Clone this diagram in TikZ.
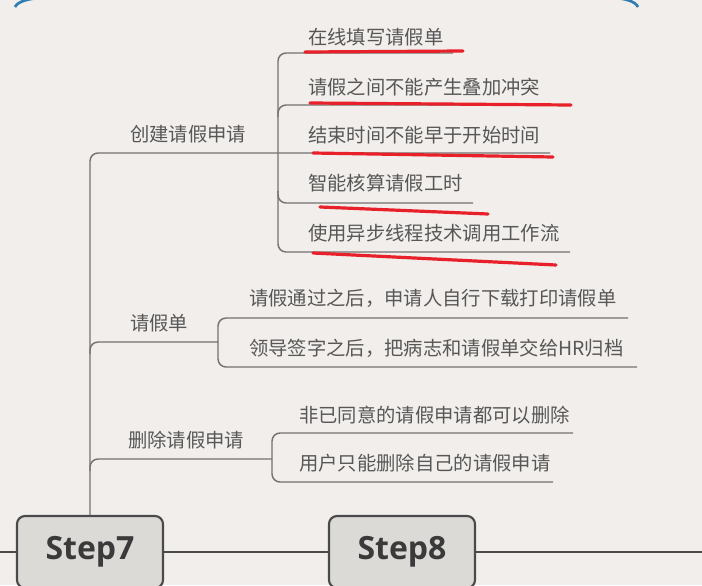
\documentclass[tikz,border=0pt]{standalone}
\usepackage{fontspec}
\setmainfont{Noto Sans CJK SC}
\newfontfamily\stepfont{Open Sans}
\definecolor{bg}{HTML}{F1EEEB}
\definecolor{txt}{HTML}{575757}
\definecolor{line}{HTML}{737373}
\definecolor{boxline}{HTML}{4A4A4A}
\definecolor{boxfill}{HTML}{DCDAD7}
\definecolor{steptext}{HTML}{3A3A3A}
\definecolor{markred}{HTML}{E8202A}
\definecolor{arcblue}{HTML}{2F7DB3}

\begin{document}
\begin{tikzpicture}[x=0.75pt, y=-0.75pt,
    leaf/.style = {anchor=west, inner sep=0pt, text=txt, font=\fontsize{14.5}{17}\selectfont},
    conn/.style = {draw=line, line width=1.1pt, rounded corners=6pt},
    tline/.style = {draw=boxline, line width=1.5pt},
    stepbox/.style = {draw=boxline, fill=boxfill, line width=1.6pt, rounded corners=6pt,
        minimum width=109.5pt, minimum height=54pt, text=steptext,
        font=\stepfont\bfseries\fontsize{24}{28}\selectfont},
    redmark/.style = {draw=markred, line width=2.4pt, line cap=round}]
    \fill[bg] (0,0) rectangle (702,585);
    \clip (0,0) rectangle (702,585);
    % frame of the box above
    \draw[arcblue, line width=2pt] (15,7) .. controls (18,1) and (28,-1) .. (45,-3) -- (610,-3) .. controls (626,-1) and (635,1) .. (638,7);

    % steps
    \node[stepbox] (s7) at (90,552) {Step7};
    \node[stepbox] (s8) at (402,552) {Step8};
    \coordinate (tl) at (0,552);
    \coordinate (tr) at (702,552);
    \draw[tline] (tl) -- (s7) -- (s8) -- (tr);

    % branches
    \node[leaf] (a) at (130,134) {创建请假申请};
    \node[leaf] (b) at (130,323) {请假单};
    \node[leaf] (c) at (128,440) {删除请假申请};

    \node[leaf] (a1) at (308,37) {在线填写请假单};
    \node[leaf] (a2) at (308,87) {请假之间不能产生叠加冲突};
    \node[leaf] (a3) at (308,135) {结束时间不能早于开始时间};
    \node[leaf] (a4) at (308,183) {智能核算请假工时};
    \node[leaf] (a5) at (308,233) {使用异步线程技术调用工作流};

    \node[leaf] (b1) at (249,298) {请假通过之后，申请人自行下载打印请假单};
    \node[leaf] (b2) at (249,348) {领导签字之后，把病志和请假单交给HR归档};

    \node[leaf] (c1) at (299,415) {非已同意的请假申请都可以删除};
    \node[leaf] (c2) at (299,463) {用户只能删除自己的请假申请};

    % line ends
    \coordinate (ab) at (278,153);
    \coordinate (a1e) at (453,53);
    \coordinate (a2e) at (540,105);
    \coordinate (a3e) at (550,153);
    \coordinate (a4e) at (473,203);
    \coordinate (a5e) at (570,252);
    \coordinate (bb) at (218,342);
    \coordinate (b1e) at (628,318);
    \coordinate (b2e) at (637,367);
    \coordinate (cb) at (272,459);
    \coordinate (c1e) at (573,433);
    \coordinate (c2e) at (553,482);

    \draw[conn] (a3e) -- (ab) -- (ab -| s7) -- (s7.north);
    \draw[conn] (bb) -- (bb -| s7) -- ++(0,12);
    \draw[conn] (cb) -- (cb -| s7) -- ++(0,12);

    \draw[conn] (a1e) -- (a1e -| ab) -- (a5e -| ab) -- (a5e);
    \draw[conn] (a2e) -- (a2e -| ab) -- ++(0,12);
    \draw[conn] (a4e) -- (a4e -| ab) -- ++(0,-12);
    \draw[conn] (b1e) -- (b1e -| bb) -- (b2e -| bb) -- (b2e);
    \draw[conn] (c1e) -- (c1e -| cb) -- (c2e -| cb) -- (c2e);

    % red marks
    \draw[redmark] (305,52) -- (463,51);
    \draw[redmark] (310,103) -- (571,105);
    \draw[redmark] (313,153) -- (553,157);
    \draw[redmark] (320,207) -- (488,214);
    \draw[redmark] (313,253) -- (556,265);
\end{tikzpicture}
\end{document}
